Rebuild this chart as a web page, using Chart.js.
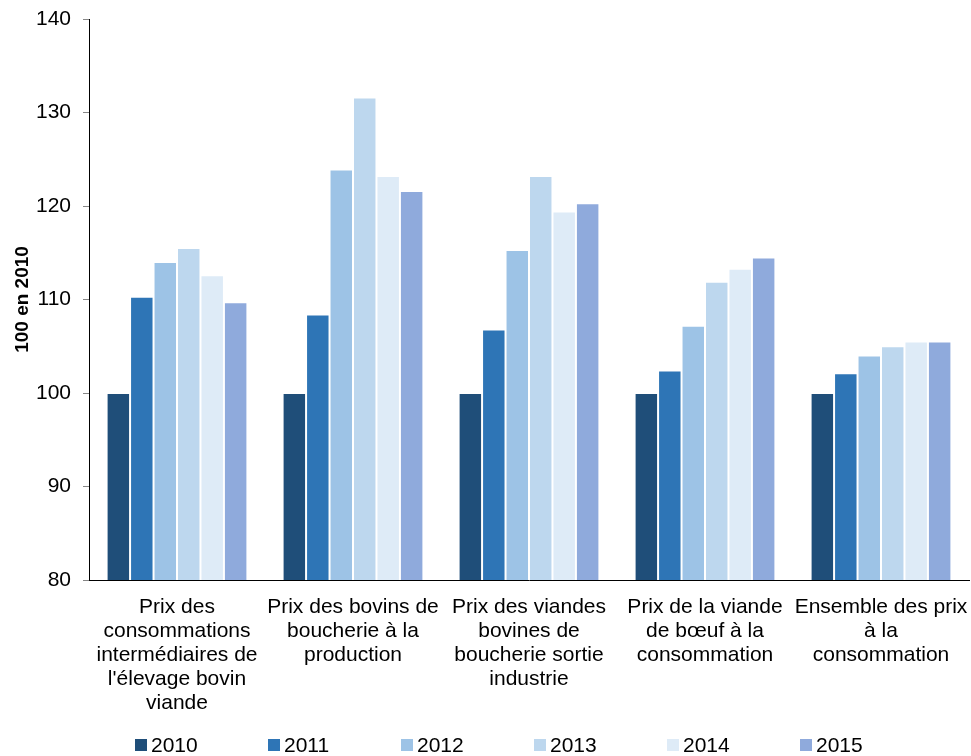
<!DOCTYPE html>
<html lang="fr">
<head>
<meta charset="utf-8">
<script src="https://cdn.jsdelivr.net/npm/chart.js@4/dist/chart.umd.min.js"></script>
<style>
  html, body { margin: 0; padding: 0; background: #fff; }
  #wrap { width: 971px; height: 756px; position: relative; }
</style>
</head>
<body>
<div id="wrap"><canvas id="c"></canvas></div>
<script>
// Indices des prix de la filière bovine, base 100 en 2010
const categories = [
  ["Prix des", "consommations", "intermédiaires de", "l'élevage bovin", "viande"],
  ["Prix des bovins de", "boucherie à la", "production"],
  ["Prix des viandes", "bovines de", "boucherie sortie", "industrie"],
  ["Prix de la viande", "de bœuf à la", "consommation"],
  ["Ensemble des prix", "à la", "consommation"]
];
const years = ["2010", "2011", "2012", "2013", "2014", "2015"];
const values2010 = [100, 100, 100, 100, 100];
const values2011 = [110.3, 108.4, 106.8, 102.4, 102.1];
const values2012 = [114.0, 123.9, 115.3, 107.2, 104.0];
const values2013 = [115.5, 131.6, 123.2, 111.9, 105.0];
const values2014 = [112.6, 123.2, 119.4, 113.3, 105.5];
const values2015 = [109.7, 121.6, 120.3, 114.5, 105.5];
const yTicks = [80, 90, 100, 110, 120, 130, 140];
const yTitle = "100 en 2010";

const seriesValues = [values2010, values2011, values2012, values2013, values2014, values2015];
const colors = ["#1F4E79", "#2E75B6", "#9DC3E6", "#BDD7EE", "#DEEBF7", "#8FAADC"];

const FONT = "'Liberation Sans', Arial, Helvetica, sans-serif";

// Single-row legend with a tight gap between swatch and label
const rowLegend = {
  id: 'rowLegend',
  afterDraw(chart) {
    const ctx = chart.ctx;
    const box = 12, gap = 4, step = 133, left = 135, cy = 745;
    ctx.save();
    ctx.font = "21px " + FONT;
    ctx.textBaseline = 'middle';
    ctx.textAlign = 'left';
    chart.data.datasets.forEach((ds, i) => {
      const x = left + i * step;
      ctx.fillStyle = ds.backgroundColor;
      ctx.fillRect(x, cy - box / 2, box, box);
      ctx.fillStyle = '#000';
      ctx.fillText(ds.label, x + box + gap, cy + 1);
    });
    ctx.restore();
  }
};

new Chart(document.getElementById('c'), {
  type: 'bar',
  data: {
    labels: categories,
    datasets: years.map((y, i) => ({
      label: y,
      data: seriesValues[i],
      backgroundColor: colors[i],
      borderColor: 'rgba(255,255,255,0.45)',
      borderWidth: 1,
      categoryPercentage: 0.8,
      barPercentage: 1.0
    }))
  },
  options: {
    responsive: true,
    maintainAspectRatio: false,
    animation: false,
    layout: { padding: { top: 19, right: 2, bottom: 0, left: 0 } },
    plugins: {
      legend: { display: false },
      tooltip: { enabled: false }
    },
    scales: {
      x: {
        grid: { display: false, drawTicks: false },
        border: { display: true, color: '#000', width: 1 },
        ticks: {
          color: '#000',
          font: { family: FONT, size: 21, lineHeight: 1.143 },
          padding: 15,
          maxRotation: 0,
          autoSkip: false
        },
        afterFit(s) {
          s.height = 176;
          s.paddingLeft = 0;
          s.paddingRight = 0;
        }
      },
      y: {
        min: 80,
        max: 140,
        afterBuildTicks(s) { s.ticks = yTicks.map(v => ({ value: v })); },
        grid: { drawOnChartArea: false, drawTicks: true, tickLength: 6, tickColor: '#868686' },
        border: { display: true, color: '#000', width: 1 },
        ticks: {
          color: '#000',
          font: { family: FONT, size: 21 },
          padding: 12
        },
        title: {
          display: true,
          text: yTitle,
          color: '#000',
          font: { family: FONT, size: 19, weight: 'bold' },
          padding: { top: 11, bottom: 0 }
        },
        afterFit(s) {
          s.width = 89;
          s.paddingTop = 0;
          s.paddingBottom = 0;
        }
      }
    }
  },
  plugins: [rowLegend]
});
</script>
</body>
</html>
